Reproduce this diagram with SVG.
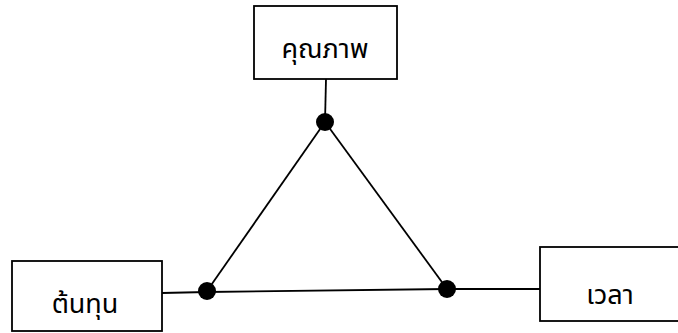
<svg xmlns="http://www.w3.org/2000/svg" width="678" height="333" viewBox="0 0 678 333">
<style>
.box{fill:#fff;stroke:#000;stroke-width:1.8}
.lbl{font-family:"Noto Sans Thai","Noto Sans","DejaVu Sans","Liberation Sans",sans-serif;font-size:27px;fill:#000;text-anchor:middle}
.ln{stroke:#000;stroke-width:1.8;fill:none}
.dot{fill:#000}
</style>
<rect width="678" height="333" fill="#fff"/>
<g id="connectors">
<line class="ln" x1="326" y1="79" x2="325" y2="122"/>
<line class="ln" x1="325" y1="122" x2="207" y2="291"/>
<line class="ln" x1="325" y1="122" x2="447" y2="289"/>
<line class="ln" x1="162" y1="293" x2="207" y2="292"/>
<line class="ln" x1="207" y1="292" x2="447" y2="289"/>
<line class="ln" x1="447" y1="289" x2="540" y2="289"/>
</g>
<g id="node-quality">
<rect class="box" x="254" y="6" width="143" height="73"/>
<text class="lbl" x="325" y="58">คุณภาพ</text>
</g>
<g id="node-cost">
<rect class="box" x="12" y="261" width="150" height="70"/>
<text class="lbl" x="85" y="313">ต้นทุน</text>
</g>
<g id="node-time">
<rect class="box" x="540" y="247" width="145" height="74"/>
<text class="lbl" x="610" y="304">เวลา</text>
</g>
<g id="dots">
<circle class="dot" cx="325" cy="122" r="9"/>
<circle class="dot" cx="207" cy="291" r="9"/>
<circle class="dot" cx="447" cy="289" r="9"/>
</g>
</svg>
